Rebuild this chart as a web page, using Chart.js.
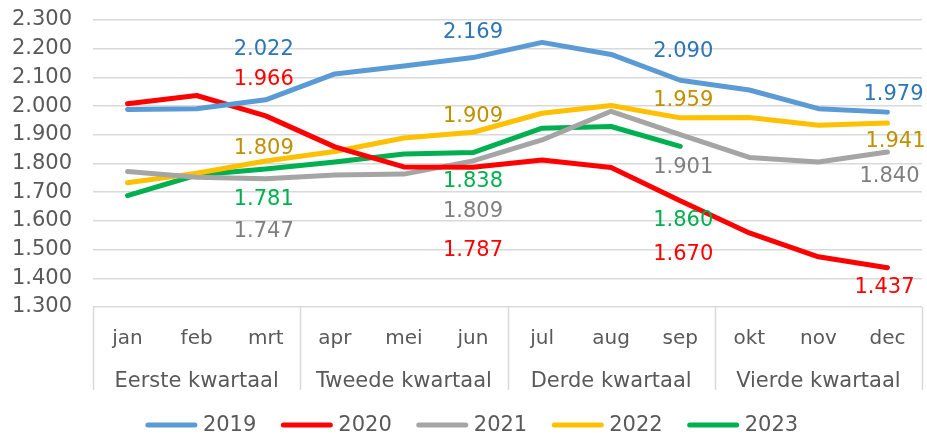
<!DOCTYPE html>
<html>
<head>
<meta charset="utf-8">
<script src="https://cdn.jsdelivr.net/npm/chart.js@4.4.1/dist/chart.umd.min.js"></script>
<style>
  body { margin: 0; background: #fff; }
  #wrap { width: 927px; height: 435px; position: relative; }
</style>
</head>
<body>
<div id="wrap"><canvas id="salesChart"></canvas></div>
<script>
// months and quarter groups
const months = ["jan", "feb", "mrt", "apr", "mei", "jun", "jul", "aug", "sep", "okt", "nov", "dec"];
const quarters = ["Eerste kwartaal", "Tweede kwartaal", "Derde kwartaal", "Vierde kwartaal"];
const yearLabels = ["2019", "2020", "2021", "2022", "2023"];

// values
const values2019 = [1988, 1991, 2022, 2112, 2140, 2169, 2222, 2180, 2090, 2056, 1991, 1979];
const values2020 = [2008, 2037, 1966, 1858, 1788, 1787, 1812, 1786, 1670, 1558, 1475, 1437];
const values2021 = [1772, 1752, 1747, 1760, 1763, 1809, 1882, 1982, 1901, 1821, 1805, 1840];
const values2022 = [1733, 1766, 1809, 1842, 1889, 1909, 1975, 2002, 1959, 1960, 1933, 1941];
const values2023 = [1688, 1760, 1781, 1805, 1833, 1838, 1923, 1929, 1860, null, null, null];

const yTicks = [1300, 1400, 1500, 1600, 1700, 1800, 1900, 2000, 2100, 2200, 2300];

const FONT = "'DejaVu Sans', Verdana, sans-serif";
const TEXT = "#595959";

// dutch thousands format: 2022 -> 2.022
const fmt = (v) => Math.floor(v / 1000) + "." + String(v % 1000).padStart(3, "0");

// data labels (only mrt, jun, sep, dec), nudged like in the original
const labelPlugin = {
  id: "valueLabels",
  afterDatasetsDraw(chart, args, opts) {
    const ctx = chart.ctx;
    ctx.save();
    ctx.font = "21px " + FONT;
    ctx.textAlign = "center";
    ctx.textBaseline = "middle";
    chart.data.datasets.forEach((ds, di) => {
      const meta = chart.getDatasetMeta(di);
      opts.indexes.forEach((idx, k) => {
        const v = ds.data[idx];
        if (v == null) return;
        const pt = meta.data[idx];
        const dy = opts.dy[di][k] + 2;
        const dx = opts.dx[k] + (opts.extraDx[di] ? opts.extraDx[di][k] : 0);
        ctx.fillStyle = opts.colors[di];
        ctx.fillText(fmt(v), pt.x + dx, pt.y + dy);
      });
    });
    ctx.restore();
  },
};

// quarter labels + separators under the month ticks, and the legend
const axisPlugin = {
  id: "quarterAxis",
  afterDraw(chart) {
    const ctx = chart.ctx;
    const x = chart.scales.x;
    const area = chart.chartArea;
    ctx.save();
    ctx.strokeStyle = "#d9d9d9";
    ctx.lineWidth = 1.5;
    for (let q = 0; q <= quarters.length; q++) {
      const px = Math.round(x.getPixelForValue(q * 3 - 0.5)) + 0.5;
      ctx.beginPath();
      ctx.moveTo(px, area.bottom);
      ctx.lineTo(px, area.bottom + 83);
      ctx.stroke();
    }
    ctx.fillStyle = TEXT;
    ctx.font = "21px " + FONT;
    ctx.textAlign = "center";
    ctx.textBaseline = "middle";
    quarters.forEach((q, i) => {
      const cx = x.getPixelForValue(i * 3 + 1);
      ctx.fillText(q, cx, area.bottom + 75);
    });

    // legend
    ctx.font = "21px " + FONT;
    ctx.textAlign = "left";
    const lineLen = 53, gap = 5, spacing = 24;
    const items = chart.data.datasets.map((ds) => ({
      text: ds.label,
      color: ds.borderColor,
      w: lineLen + gap + ctx.measureText(ds.label).width,
    }));
    const total = items.reduce((a, it) => a + it.w, 0) + spacing * (items.length - 1);
    let lx = chart.width / 2 - total / 2 + 8;
    const ly = 425;
    items.forEach((it) => {
      ctx.strokeStyle = it.color;
      ctx.lineWidth = 5;
      ctx.lineCap = "round";
      ctx.beginPath();
      ctx.moveTo(lx + 3, ly);
      ctx.lineTo(lx + lineLen - 3, ly);
      ctx.stroke();
      ctx.fillStyle = TEXT;
      ctx.fillText(it.text, lx + lineLen + gap, ly + 1);
      lx += it.w + spacing;
    });
    ctx.restore();
  },
};

const lineColors = ["#5b9bd5", "#ff0000", "#a5a5a5", "#ffc000", "#00b050"];
const labelColors = ["#2e75b6", "#ff0000", "#7f7f7f", "#bf9000", "#00b050"];
const allValues = [values2019, values2020, values2021, values2022, values2023];

const ctx = document.getElementById("salesChart");

new Chart(ctx, {
  type: "line",
  data: {
    labels: months,
    datasets: yearLabels.map((y, i) => ({
      label: y,
      data: allValues[i],
      borderColor: lineColors[i],
      backgroundColor: lineColors[i],
      borderWidth: 5,
      pointRadius: 0,
      tension: 0,
      borderCapStyle: "round",
      borderJoinStyle: "round",
      spanGaps: false,
    })),
  },
  options: {
    responsive: true,
    maintainAspectRatio: false,
    animation: false,
    layout: { padding: { top: 20, right: 5, bottom: 45, left: 0 } },
    plugins: {
      legend: { display: false },
      tooltip: { enabled: false },
      valueLabels: {
        indexes: [2, 5, 8, 11],
        dx: [-2, 0, 3, 0],
        extraDx: [[0, 0, 0, 6], [0, 0, 0, -3], [0, 0, 0, 2], [0, 0, 0, 8], [0, 0, 0, 0]],
        dy: [
          [-52, -27, -31, -20],
          [-38, 81, 52, 18],
          [51, 49, 31, 23],
          [-14, -18, -19, 17],
          [29, 27, 72, 0],
        ],
        colors: labelColors,
      },
    },
    scales: {
      x: {
        offset: true,
        grid: { display: false },
        border: { display: false },
        ticks: {
          color: TEXT,
          font: { family: FONT, size: 20 },
          padding: 12,
          maxRotation: 0,
          autoSkip: false,
        },
        afterFit: (s) => { s.height = 83; },
      },
      y: {
        min: 1300,
        max: 2300,
        afterBuildTicks: (s) => { s.ticks = yTicks.map((v) => ({ value: v })); },
        grid: { color: "#d9d9d9", lineWidth: 1.5, drawTicks: false },
        border: { display: false },
        ticks: {
          color: TEXT,
          font: { family: FONT, size: 21 },
          padding: 21,
          autoSkip: false,
          callback: (v) => fmt(v),
        },
        afterFit: (s) => {
          s.width = 93;
          s.paddingTop = 0;
          s.paddingBottom = 0;
        },
      },
    },
  },
  plugins: [labelPlugin, axisPlugin],
});
</script>
</body>
</html>
